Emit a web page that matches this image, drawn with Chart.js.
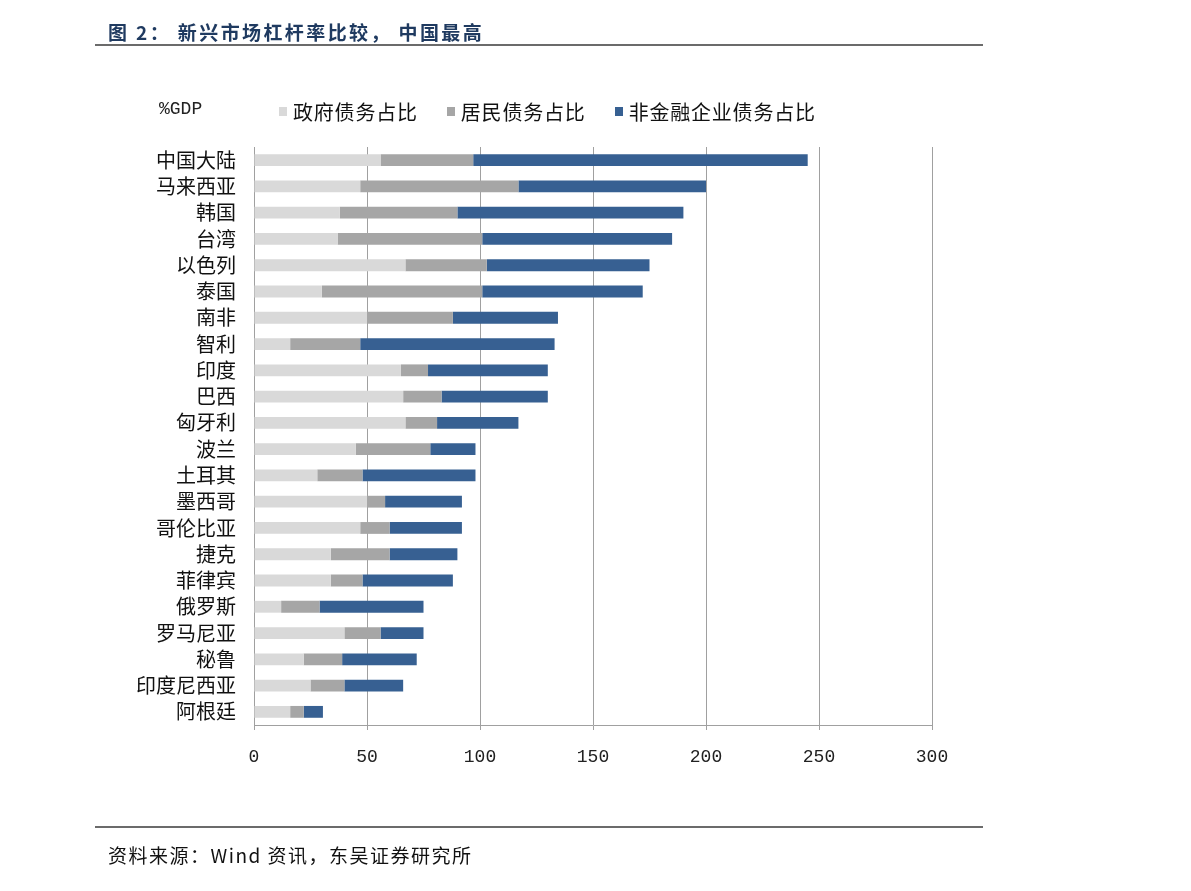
<!DOCTYPE html>
<html lang="zh">

<head>
    <meta charset="UTF-8">
    <title>新兴市场杠杆率比较</title>
    <script src="https://cdn.jsdelivr.net/npm/chart.js"></script>
    <style>
        body {
            margin: 0;
            background: #fff;
            font-family: "Noto Sans CJK SC", sans-serif;
        }

        #pagina {
            position: relative;
            width: 1191px;
            height: 891px;
            overflow: hidden;
        }

        #canvas {
            position: absolute;
            left: 0;
            top: 0;
        }

        .titulo {
            position: absolute;
            left: 108px;
            top: 18px;
            font-size: 19px;
            font-weight: bold;
            color: #1f3a60;
            letter-spacing: 2.4px;
        }

        .linea {
            position: absolute;
            left: 95px;
            width: 888px;
            height: 2px;
            background: #6b6b6b;
        }

        .unidad {
            position: absolute;
            left: 159px;
            top: 99px;
            font-family: "Liberation Mono", monospace;
            font-size: 18px;
            color: #222;
        }

        #leyenda {
            position: absolute;
            left: 279px;
            top: 97px;
            display: flex;
            font-size: 20px;
            color: #111;
        }

        #leyenda .item {
            display: flex;
            align-items: center;
            margin-right: 29px;
            letter-spacing: 0.8px;
        }

        #leyenda .caja {
            width: 8px;
            height: 9px;
            margin-right: 6px;
        }

        .fuente {
            position: absolute;
            left: 108px;
            top: 841px;
            font-size: 19px;
            color: #111;
            letter-spacing: 1.5px;
        }
    </style>
</head>

<body>
    <div id="pagina">
        <canvas id="canvas" width="1191" height="891"></canvas>
        <div class="titulo">图 2： 新兴市场杠杆率比较， 中国最高</div>
        <div class="linea" style="top:44px"></div>
        <div class="unidad">%GDP</div>
        <div id="leyenda"></div>
        <div class="linea" style="top:826px"></div>
        <div class="fuente">资料来源：Wind 资讯，东吴证券研究所</div>
    </div>

    <script>
        const categorias = ['中国大陆', '马来西亚', '韩国', '台湾', '以色列', '泰国', '南非', '智利', '印度', '巴西',
            '匈牙利', '波兰', '土耳其', '墨西哥', '哥伦比亚', '捷克', '菲律宾', '俄罗斯', '罗马尼亚', '秘鲁',
            '印度尼西亚', '阿根廷']
        const deudaGobierno = [56, 47, 38, 37, 67, 30, 50, 16, 65, 66, 67, 45, 28, 50, 47, 34, 34, 12, 40, 22, 25, 16]
        const deudaHogares = [41, 70, 52, 64, 36, 71, 38, 31, 12, 17, 14, 33, 20, 8, 13, 26, 14, 17, 16, 17, 15, 6]
        const deudaEmpresas = [148, 83, 100, 84, 72, 71, 46.5, 86, 53, 47, 36, 20, 50, 34, 32, 30, 40, 46, 19, 33, 26, 8.5]
        const nombresSeries = ['政府债务占比', '居民债务占比', '非金融企业债务占比']
        const colores = ['#d9d9d9', '#a6a6a6', '#376092']
        const ejeMin = 0
        const ejeMax = 300
        const ejePaso = 50

        const ctx = document.getElementById('canvas');
        let graph
        CrearGraph()
        CrearLeyenda()

        function CrearGraph() {
            const series = [deudaGobierno, deudaHogares, deudaEmpresas]
            graph = new Chart(ctx, {
                type: 'bar',
                data: {
                    labels: categorias,
                    datasets: series.map((s, i) => ({
                        label: nombresSeries[i],
                        data: s,
                        backgroundColor: colores[i],
                        borderWidth: 0,
                        categoryPercentage: 0.45,
                        barPercentage: 1
                    }))
                },
                options: {
                    indexAxis: 'y',
                    responsive: false,
                    animation: false,
                    devicePixelRatio: 1,
                    layout: {
                        padding: { top: 147, right: 259, bottom: 0, left: 0 }
                    },
                    plugins: {
                        legend: { display: false },
                        tooltip: { enabled: false }
                    },
                    scales: {
                        x: {
                            stacked: true,
                            min: ejeMin,
                            max: ejeMax,
                            ticks: {
                                stepSize: ejePaso,
                                padding: 16,
                                color: '#222',
                                font: { family: 'Liberation Mono', size: 18 }
                            },
                            grid: {
                                color: '#a0a0a0',
                                lineWidth: 1,
                                tickLength: 5
                            },
                            border: { display: true, color: '#a0a0a0' },
                            afterFit: (scale) => { scale.height = 166 }
                        },
                        y: {
                            stacked: true,
                            ticks: {
                                autoSkip: false,
                                padding: 18,
                                color: '#111',
                                font: { family: 'Noto Sans CJK SC', size: 20 }
                            },
                            grid: { display: false, drawTicks: false },
                            border: { display: true, color: '#a0a0a0' },
                            afterFit: (scale) => { scale.width = 254 }
                        }
                    }
                }
            });
        }

        function CrearLeyenda() {
            const cont = document.getElementById('leyenda')
            graph.data.datasets.forEach(ds => {
                const item = document.createElement('div')
                item.className = 'item'
                const caja = document.createElement('span')
                caja.className = 'caja'
                caja.style.background = ds.backgroundColor
                const txt = document.createElement('span')
                txt.textContent = ds.label
                item.appendChild(caja)
                item.appendChild(txt)
                cont.appendChild(item)
            })
        }
    </script>

</body>

</html>
